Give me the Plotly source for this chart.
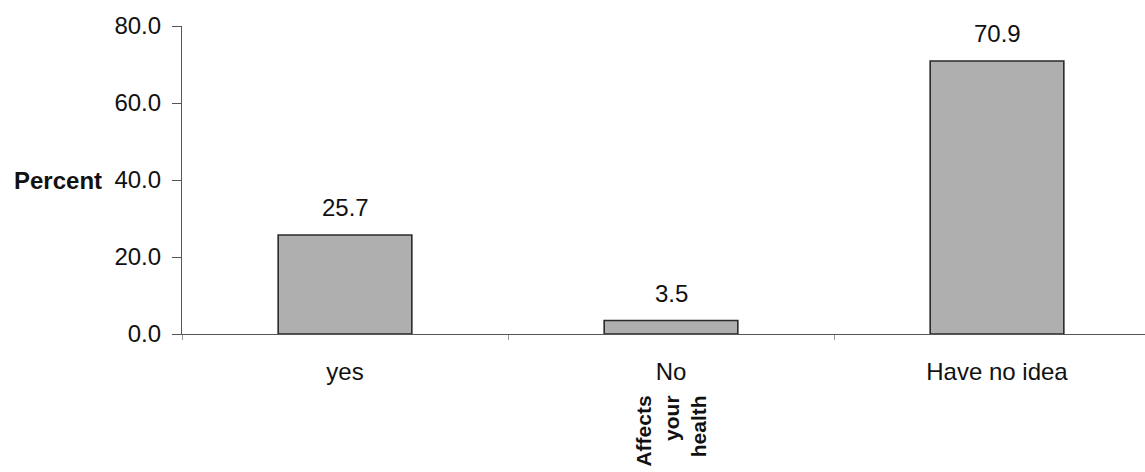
import plotly.graph_objects as go

# Survey responses: does it affect your health?
categories = ["yes", "No", "Have no idea"]
percent = [25.7, 3.5, 70.9]
y_ticks = [0, 20, 40, 60, 80]
y_tick_labels = ["0.0", "20.0", "40.0", "60.0", "80.0"]
axis_caption = "Affects<br>your<br>health"
y_caption = "Percent"

FONT = "Liberation Sans, Arial, sans-serif"
SIZE = 24

fig = go.Figure()
fig.add_trace(go.Bar(
    x=categories,
    y=percent,
    marker=dict(color="#afafaf", line=dict(color="#2a2a2a", width=1.6)),
    hoverinfo="skip",
))

# value labels above each bar
for cat, val in zip(categories, percent):
    fig.add_annotation(
        x=cat, y=val, xref="x", yref="y",
        text=f"{val:.1f}", showarrow=False,
        yanchor="bottom", yshift=12,
        font=dict(family=FONT, size=SIZE, color="#111"),
    )

# y-axis caption
fig.add_annotation(
    x=0, y=40, xref="paper", yref="y",
    text=f"<b>{y_caption}</b>", showarrow=False,
    xanchor="right", xshift=-78,
    font=dict(family=FONT, size=SIZE, color="#111"),
)

# rotated x-axis caption under the middle category
fig.add_annotation(
    x="No", y=-0.195, xref="x", yref="paper",
    text=f"<b>{axis_caption}</b>", showarrow=False,
    textangle=-90, align="right",
    yanchor="top",
    font=dict(family=FONT, size=21, color="#111"),
)

fig.update_layout(
    width=1145, height=472,
    margin=dict(l=182, r=0, t=26, b=138),
    paper_bgcolor="white", plot_bgcolor="white",
    bargap=0.59,
    showlegend=False,
    font=dict(family=FONT, size=SIZE, color="#111"),
)

fig.update_xaxes(
    range=[-0.5, 2.454],
    showline=True, linecolor="#555", linewidth=1.2,
    ticks="outside", tickson="boundaries", ticklen=5, tickcolor="#999",
    ticklabelstandoff=16,
    showgrid=False, zeroline=False,
    tickfont=dict(family=FONT, size=SIZE, color="#111"),
)

fig.update_yaxes(
    range=[0, 80],
    tickvals=y_ticks, ticktext=y_tick_labels,
    showline=True, linecolor="#555", linewidth=1.2,
    ticks="outside", ticklen=9, tickcolor="#555",
    ticklabelstandoff=6,
    showgrid=False, zeroline=False,
    tickfont=dict(family=FONT, size=SIZE, color="#111"),
)

fig.write_html("out.html")
